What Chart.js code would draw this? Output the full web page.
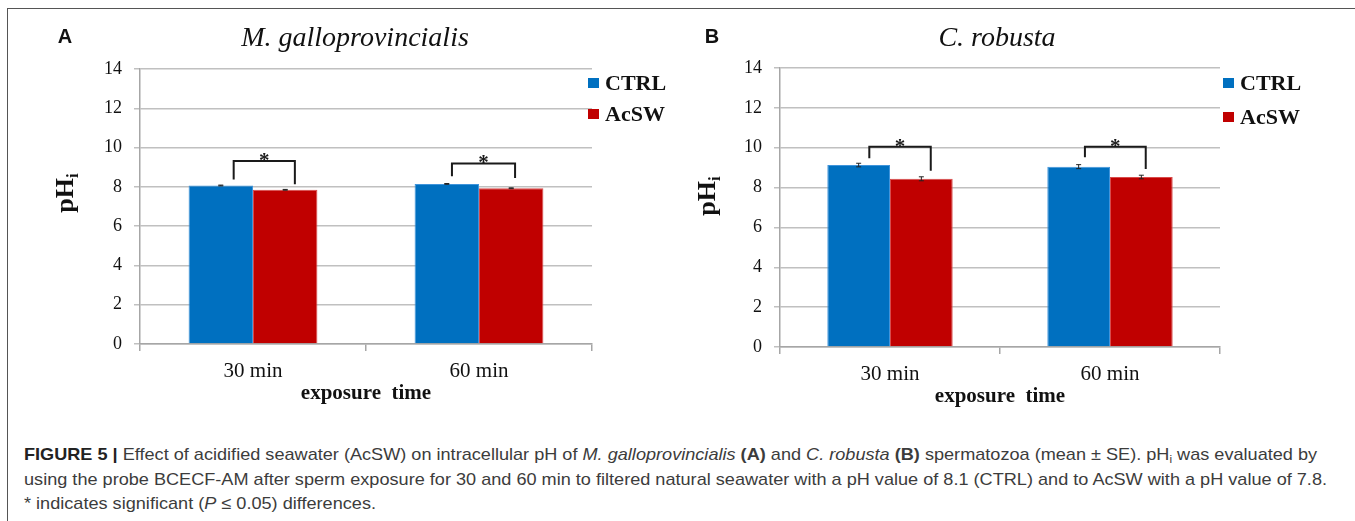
<!DOCTYPE html>
<html lang="en">
<head>
<meta charset="UTF-8" />
<title>Figure 5 - intracellular pH</title>
<script src="https://cdn.jsdelivr.net/npm/chart.js"></script>
<style>
  html, body { margin: 0; padding: 0; background: #fff; }
  body { width: 1355px; height: 521px; position: relative; overflow: hidden; }
  .frame { position: absolute; left: 7px; top: 8px; width: 1420px; height: 620px; border: 1.5px solid #555; box-sizing: border-box; }
  canvas { position: absolute; top: 0; }
  #caption { position: absolute; left: 24px; top: 443px; font-family: "Liberation Sans", Arial, sans-serif; font-size: 17px; line-height: 24px; color: #3c3c3c; white-space: nowrap; transform-origin: 0 0; }
  #caption b.fig { color: #222; }
  #caption .sub { font-size: 11px; position: relative; top: 3px; }
</style>
</head>
<body>
<div class="frame"></div>
<canvas id="chartA" width="680" height="420" style="left:0"></canvas>
<canvas id="chartB" width="675" height="420" style="left:680px"></canvas>
<div id="caption">
  <div class="ln"><b class="fig">FIGURE 5 |</b> Effect of acidified seawater (AcSW) on intracellular pH of <i>M. galloprovincialis</i> <b>(A)</b> and <i>C. robusta</i> <b>(B)</b> spermatozoa (mean ± SE). pH<span class="sub">i</span> was evaluated by</div>
  <div class="ln" id="longLine">using the probe BCECF-AM after sperm exposure for 30 and 60 min to filtered natural seawater with a pH value of 8.1 (CTRL) and to AcSW with a pH value of 7.8.</div>
  <div class="ln">* indicates significant (<i>P</i> ≤ 0.05) differences.</div>
</div>

<script>
  const categories = ['30 min', '60 min'];
  const seriesNames = ['CTRL', 'AcSW'];
  const seriesColors = ['#0070C0', '#C00000'];
  const yMin = 0, yMax = 14, yStep = 2;

  // panel A - M. galloprovincialis
  const ctrlA = [8.07, 8.15];
  const acswA = [7.85, 7.93];
  const ctrlErrA = [0.02, 0.02];
  const acswErrA = [0.02, 0.02];
  const sigTopA = [9.32, 9.19];
  const sigLeftEndA = [8.37, 8.54];
  const sigRightEndA = [8.13, 8.45];

  // panel B - C. robusta
  const ctrlB = [9.13, 9.05];
  const acswB = [8.44, 8.53];
  const ctrlErrB = [0.09, 0.10];
  const acswErrB = [0.10, 0.09];
  const sigTopB = [10.05, 10.05];
  const sigLeftEndB = [9.47, 9.52];
  const sigRightEndB = [8.84, 8.93];

  Chart.defaults.font.family = '"Liberation Serif", "Times New Roman", serif';
  Chart.defaults.color = '#111';

  const panelDecor = {
    id: 'panelDecor',
    afterDatasetsDraw(chart, args, o) {
      const ctx = chart.ctx;
      const ys = chart.scales.y;
      ctx.save();
      // error bars
      ctx.strokeStyle = '#222';
      ctx.lineWidth = 1;
      chart.data.datasets.forEach((ds, i) => {
        chart.getDatasetMeta(i).data.forEach((bar, j) => {
          const v = ds.data[j], e = ds.errors[j];
          const lo = ys.getPixelForValue(v - e), hi = ys.getPixelForValue(v + e);
          ctx.beginPath();
          ctx.moveTo(bar.x, lo); ctx.lineTo(bar.x, hi);
          ctx.moveTo(bar.x - 2.5, lo); ctx.lineTo(bar.x + 2.5, lo);
          ctx.moveTo(bar.x - 2.5, hi); ctx.lineTo(bar.x + 2.5, hi);
          ctx.stroke();
        });
      });
      // significance brackets
      const m0 = chart.getDatasetMeta(0).data, m1 = chart.getDatasetMeta(1).data;
      ctx.lineWidth = 2;
      ctx.strokeStyle = '#1a1a1a';
      ctx.fillStyle = '#1a1a1a';
      ctx.font = 'bold 21px "Liberation Serif"';
      ctx.textAlign = 'center';
      ctx.textBaseline = 'alphabetic';
      o.top.forEach((t, j) => {
        const xl = m0[j].x + o.shiftL[j] * m0[j].width;
        const xr = m1[j].x + o.shiftR[j] * m1[j].width;
        const yt = ys.getPixelForValue(t);
        ctx.beginPath();
        ctx.moveTo(xl, ys.getPixelForValue(o.leftEnd[j]));
        ctx.lineTo(xl, yt);
        ctx.lineTo(xr, yt);
        ctx.lineTo(xr, ys.getPixelForValue(o.rightEnd[j]));
        ctx.stroke();
        ctx.fillText('*', (xl + xr) / 2, yt + 6);
      });
      ctx.restore();
    },
    afterDraw(chart, args, o) {
      const ctx = chart.ctx;
      ctx.save();
      ctx.fillStyle = '#111';
      // panel letter
      ctx.font = 'bold 20px "Liberation Sans"';
      ctx.textAlign = 'center';
      ctx.textBaseline = 'alphabetic';
      ctx.fillText(o.letter, o.letterX, 43);
      // species title
      ctx.font = 'italic 28px "Liberation Serif"';
      ctx.fillText(o.title, o.titleX, 46);
      // y axis title pH with subscript i
      ctx.translate(o.yTitleX, o.yTitleY);
      ctx.rotate(-Math.PI / 2);
      ctx.font = 'bold 26px "Liberation Serif"';
      const w1 = ctx.measureText('pH').width;
      ctx.font = 'bold 17px "Liberation Serif"';
      const w2 = ctx.measureText('i').width;
      const x0 = -(w1 + w2) / 2;
      ctx.textAlign = 'left';
      ctx.font = 'bold 26px "Liberation Serif"';
      ctx.fillText('pH', x0, 0);
      ctx.font = 'bold 17px "Liberation Serif"';
      ctx.fillText('i', x0 + w1, 5);
      ctx.setTransform(1, 0, 0, 1, 0, 0);
      // legend
      ctx.textAlign = 'left';
      ctx.textBaseline = 'middle';
      ctx.font = 'bold 22px "Liberation Serif"';
      chart.data.datasets.forEach((ds, i) => {
        const ly = o.legendY[i];
        ctx.fillStyle = ds.backgroundColor;
        ctx.fillRect(o.legendX, ly - 5, 11, 10);
        ctx.fillStyle = '#111';
        ctx.fillText(ds.label, o.legendX + 17, ly + 1);
      });
      ctx.restore();
    }
  };

  function makePanel(id, ctrl, acsw, ctrlErr, acswErr, sig, decor, pad) {
    return new Chart(document.getElementById(id), {
      type: 'bar',
      data: {
        labels: categories,
        datasets: [
          { label: seriesNames[0], data: ctrl, errors: ctrlErr, backgroundColor: seriesColors[0], borderColor: '#3f94db', borderWidth: 1 },
          { label: seriesNames[1], data: acsw, errors: acswErr, backgroundColor: seriesColors[1], borderColor: '#d84a4a', borderWidth: 1 }
        ]
      },
      options: {
        responsive: false,
        animation: false,
        categoryPercentage: 0.57,
        barPercentage: 1.0,
        layout: { padding: pad },
        plugins: {
          legend: { display: false },
          tooltip: { enabled: false },
          panelDecor: Object.assign({}, decor, sig)
        },
        scales: {
          x: {
            grid: { drawOnChartArea: false, drawTicks: true, tickLength: 7, color: '#a6a6a6', lineWidth: 1.5 },
            border: { display: true, color: '#a6a6a6', width: 1.5 },
            ticks: { color: '#111', font: { size: 21 }, padding: 8 },
            title: { display: true, text: 'exposure  time', color: '#111', font: { size: 21, weight: 'bold' }, padding: 0 },
            afterFit(s) { s.height = 62; s.paddingLeft = 0; s.paddingRight = 0; }
          },
          y: {
            min: yMin, max: yMax,
            ticks: { stepSize: yStep, color: '#111', font: { size: 18 }, padding: 12 },
            grid: { color: '#c0c0c0', lineWidth: 1.5, tickLength: 6 },
            border: { display: true, color: '#a6a6a6', width: 1.5 },
            afterFit(s) { s.width = 50; s.paddingTop = 0; s.paddingBottom = 0; }
          }
        }
      },
      plugins: [panelDecor]
    });
  }

  makePanel('chartA', ctrlA, acswA, ctrlErrA, acswErrA,
    { top: sigTopA, leftEnd: sigLeftEndA, rightEnd: sigRightEndA, shiftL: [0.2, 0.08], shiftR: [0.15, 0.06] },
    { letter: 'A', letterX: 65, title: 'M. galloprovincialis', titleX: 355, yTitleX: 73, yTitleY: 193, legendX: 588, legendY: [83, 114] },
    { left: 90, right: 88, top: 69, bottom: 14 });

  makePanel('chartB', ctrlB, acswB, ctrlErrB, acswErrB,
    { top: sigTopB, leftEnd: sigLeftEndB, rightEnd: sigRightEndB, shiftL: [0.17, 0.1], shiftR: [0.15, 0.07] },
    { letter: 'B', letterX: 32, title: 'C. robusta', titleX: 317, yTitleX: 35, yTitleY: 196, legendX: 543, legendY: [83, 117] },
    { left: 50, right: 135, top: 68, bottom: 11 });

  // stretch the caption so the long line ends where the reference's does
  const cap = document.getElementById('caption');
  const longW = document.getElementById('longLine').getBoundingClientRect().width;
  cap.style.transform = 'scaleX(' + (1303 / longW) + ')';
</script>
</body>
</html>
